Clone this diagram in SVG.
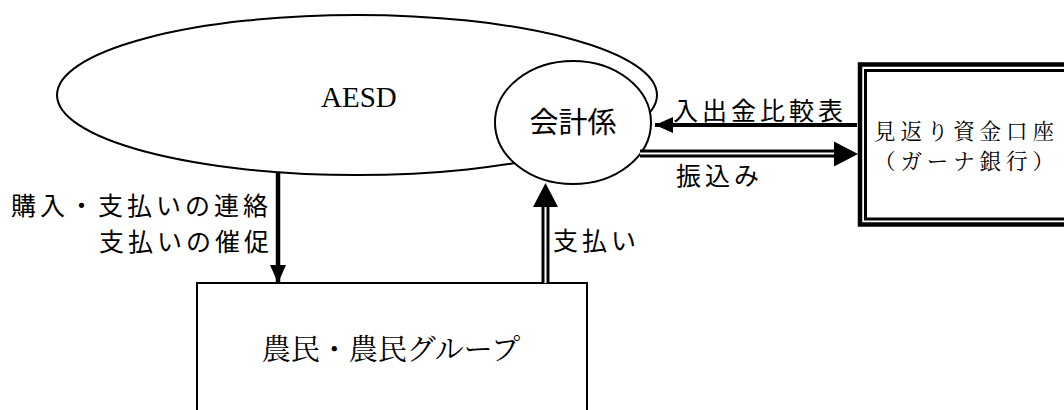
<svg xmlns="http://www.w3.org/2000/svg" width="1064" height="410" viewBox="0 0 1064 410">
<style>
.shape{fill:#fff;stroke:#000;stroke-width:2}
.sans{font-family:"Noto Sans CJK JP","Noto Sans",sans-serif;fill:#000}
.mincho{font-family:"Noto Serif CJK JP","Noto Sans CJK JP",serif;fill:#000}
.lbl{font-size:25px;letter-spacing:4px}
</style>
<defs>
<marker id="ah" markerUnits="userSpaceOnUse" markerWidth="20" markerHeight="18" refX="18" refY="9" orient="auto">
<path d="M0,1 L18,9 L0,17 Z" fill="#000"/>
</marker>
</defs>
<rect width="1064" height="410" fill="#fff"/>
<g id="aesd">
<ellipse class="shape" cx="357" cy="95" rx="300" ry="80"/>
<text x="321" y="107" font-family="Liberation Serif,serif" font-size="29">AESD</text>
</g>
<g id="kaikei">
<ellipse class="shape" cx="573" cy="122.5" rx="78" ry="61.5"/>
<text class="sans" x="573" y="133" font-size="29" text-anchor="middle">会計係</text>
</g>
<g id="bank">
<rect x="860" y="64.5" width="220" height="160" fill="#fff" stroke="#000" stroke-width="4.5"/>
<rect x="865.5" y="70.5" width="220" height="148.5" fill="none" stroke="#000" stroke-width="3"/>
<text class="mincho" x="874" y="139" font-size="21.5" letter-spacing="4.9">見返り資金口座</text>
<text class="mincho" x="874" y="169" font-size="21.5" letter-spacing="4.9">（ガーナ銀行）</text>
</g>
<g id="farmers">
<rect class="shape" x="197" y="283" width="390" height="150"/>
<text class="mincho" x="391" y="360" font-size="29" text-anchor="middle">農民・農民グループ</text>
</g>
<g id="connectors">
<line x1="857" y1="125" x2="655" y2="125" stroke="#000" stroke-width="4" marker-end="url(#ah)"/>
<line x1="640" y1="153.5" x2="834" y2="153.5" stroke="#000" stroke-width="8"/>
<line x1="640" y1="153.5" x2="836" y2="153.5" stroke="#fff" stroke-width="2"/>
<path d="M834,141.5 L858,154 L834,166.5 Z" fill="#000"/>
<line x1="278" y1="172" x2="278" y2="283" stroke="#000" stroke-width="4.5" marker-end="url(#ah)"/>
<line x1="545.5" y1="283" x2="545.5" y2="206" stroke="#000" stroke-width="8"/>
<line x1="545.5" y1="283" x2="545.5" y2="204" stroke="#fff" stroke-width="2"/>
<path d="M533,207 L545.5,183 L558,207 Z" fill="#000"/>
</g>
<g id="labels">
<text class="sans lbl" x="673" y="120">入出金比較表</text>
<text class="sans lbl" x="676" y="185">振込み</text>
<text class="sans lbl" x="11" y="215">購入・支払いの連絡</text>
<text class="sans lbl" x="99" y="251">支払いの催促</text>
<text class="sans lbl" x="553" y="250">支払い</text>
</g>
</svg>
